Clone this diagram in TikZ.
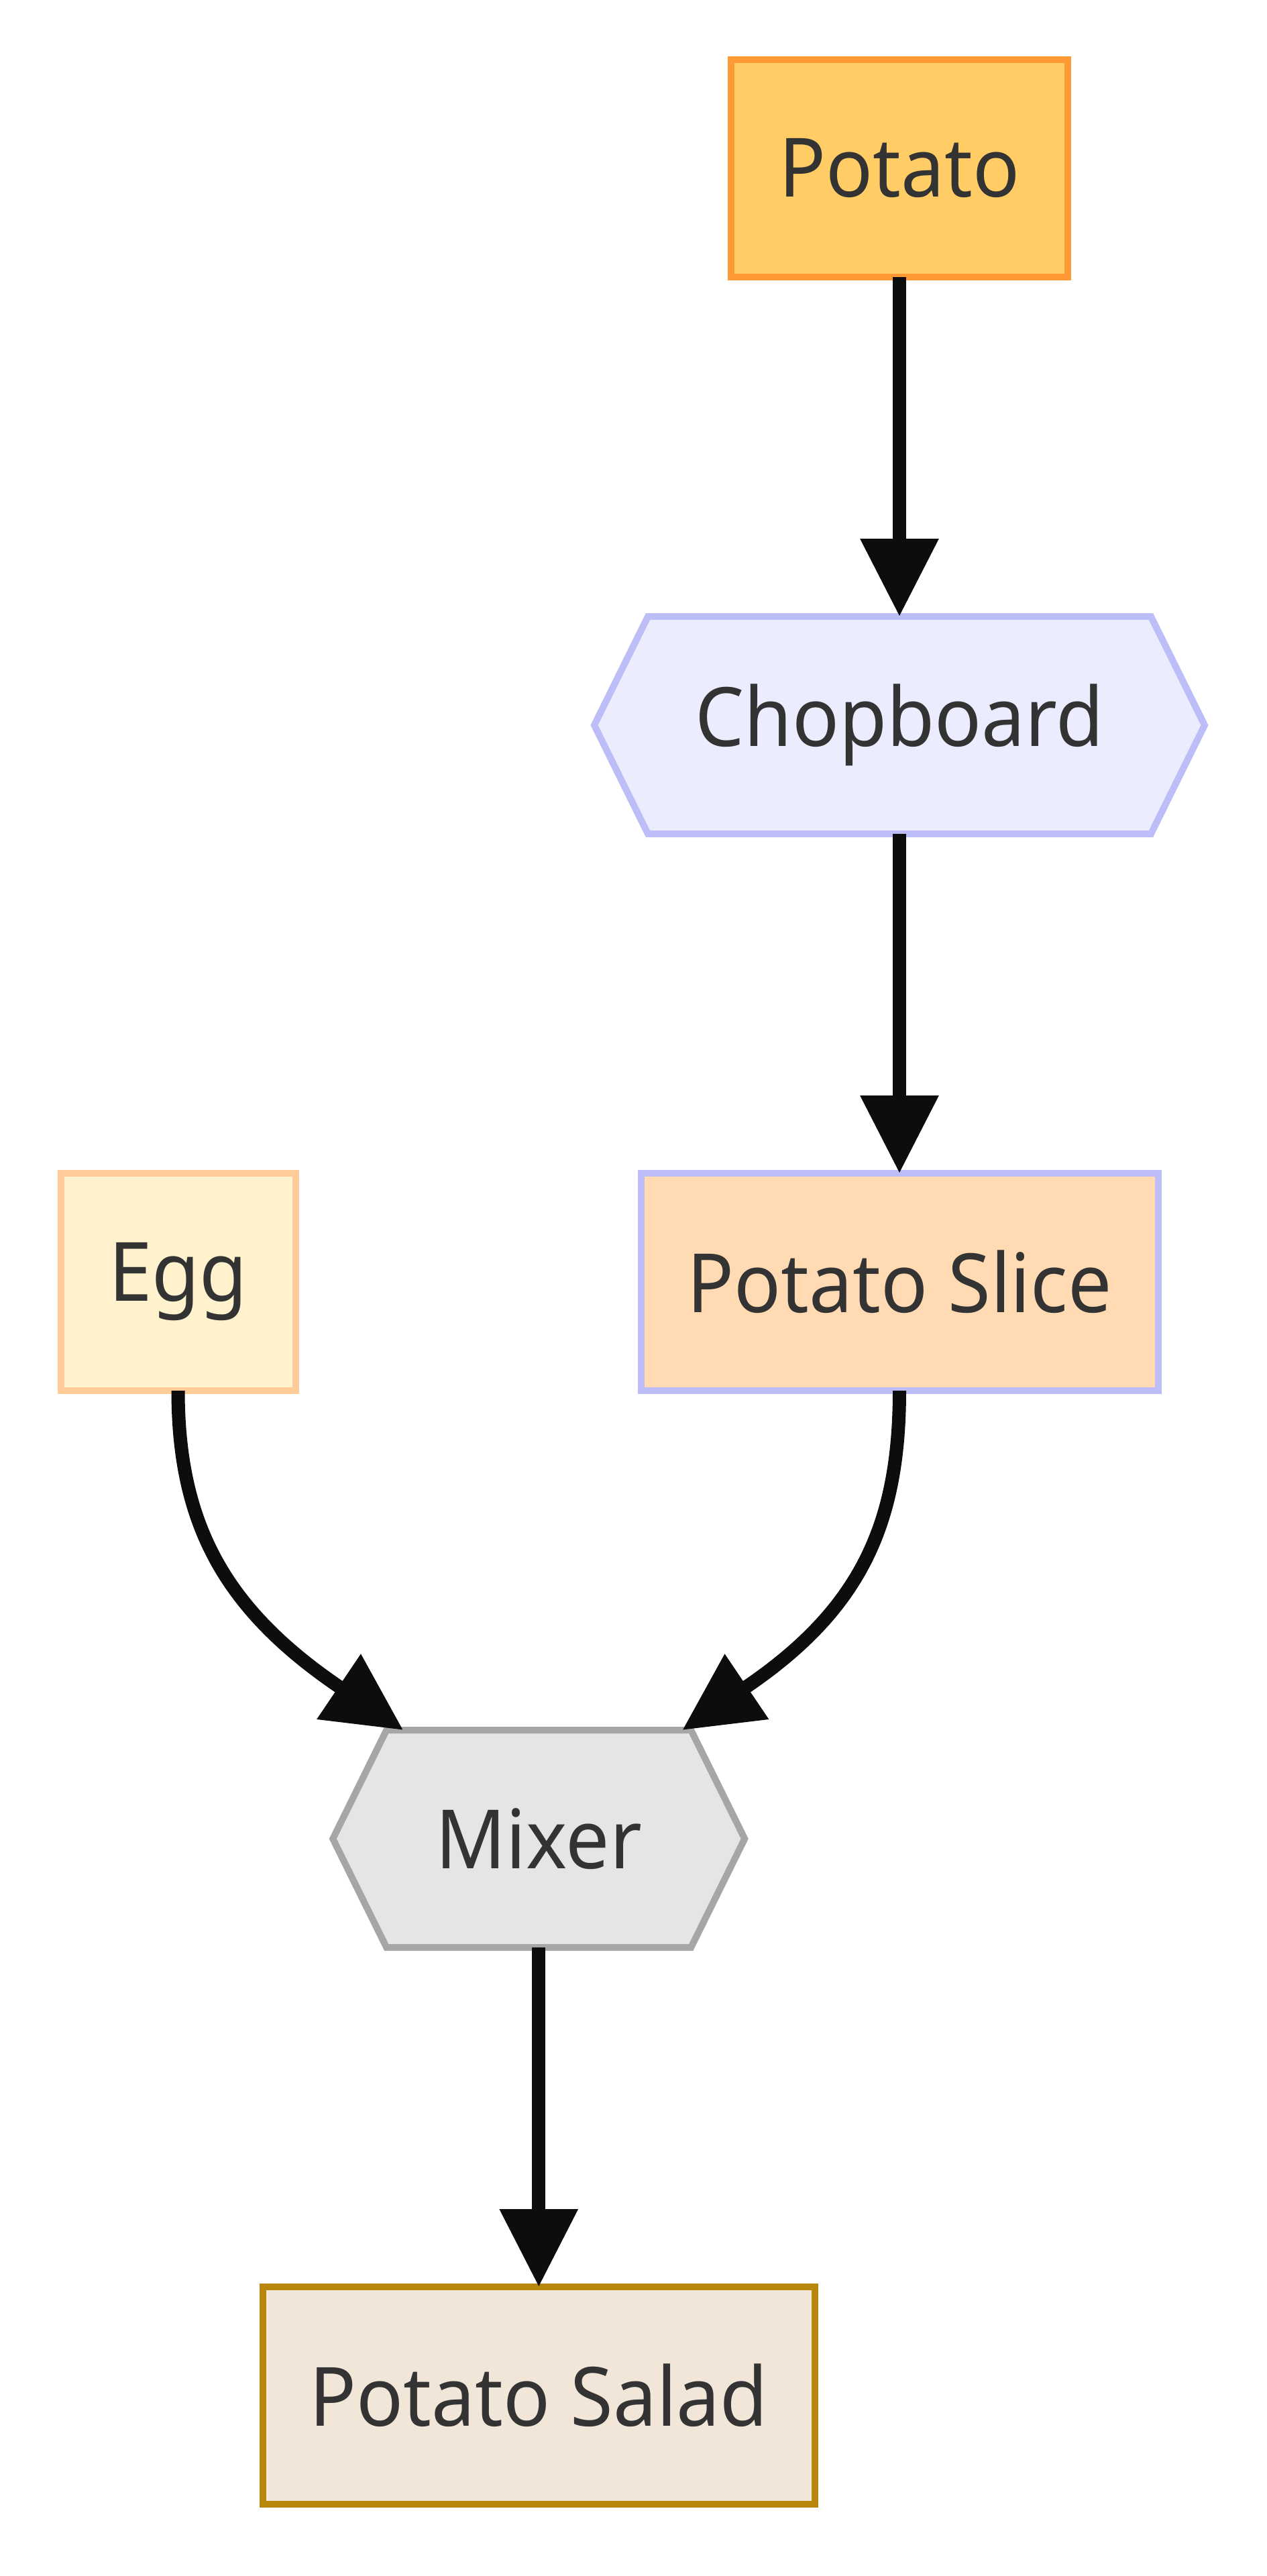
\documentclass[tikz,border=0pt]{standalone}
\usepackage{fontspec}
\setmainfont{Noto Sans}[FakeStretch=0.95]
\usetikzlibrary{positioning, arrows.meta, backgrounds}

\definecolor{potatofill}{HTML}{FFCC66}
\definecolor{potatoline}{HTML}{FF9933}
\definecolor{toolfill}{HTML}{ECECFF}
\definecolor{toolline}{HTML}{BDBDF7}
\definecolor{eggfill}{HTML}{FFF2CC}
\definecolor{eggline}{HTML}{FFCC99}
\definecolor{slicefill}{HTML}{FFDAB3}
\definecolor{mixfill}{HTML}{E5E5E5}
\definecolor{mixline}{HTML}{A6A6A6}
\definecolor{saladfill}{HTML}{F2E6D9}
\definecolor{saladline}{HTML}{B8860B}
\definecolor{textcol}{HTML}{333333}
\definecolor{edgecol}{HTML}{0D0D0D}

% hexagon drawn round a (borderless) node
\newcommand{\hexoutline}[2]{%
  \draw[#2] ([xshift=40pt]#1.north west) -- ([xshift=-40pt]#1.north east) -- (#1.east)
    -- ([xshift=-40pt]#1.south east) -- ([xshift=40pt]#1.south west) -- (#1.west) -- cycle;}

\begin{document}
\begin{tikzpicture}[
        every node/.style={rectangle, minimum height=162pt, outer sep=0pt, text=textcol,
            font=\fontsize{61pt}{73pt}\selectfont, line width=5pt},
        node distance=253pt,
        flow/.style={draw=edgecol, line width=10pt, -{Triangle[length=58pt, width=56pt]}}
    ]
        \useasboundingbox (0,0) rectangle (944.5pt,-1920pt);

        % Ingredientes e ferramentas
        \node (potato) [draw=potatoline, fill=potatofill, minimum width=251pt] at (670.5pt,-125.5pt) {Potato};
        \node (chop) [minimum width=455pt, below=of potato] {Chopboard};
        \node (slice) [draw=toolline, fill=slicefill, minimum width=385.5pt, below=of chop] {Potato Slice};
        \node (egg) [draw=eggline, fill=eggfill, minimum width=175pt, left=257.5pt of slice] {Egg};
        \path (egg.south) -- (slice.south) coordinate[midway] (join);
        \node (mixer) [minimum width=307pt, below=of join] {Mixer};
        \node (salad) [draw=saladline, fill=saladfill, minimum width=411.5pt, below=of mixer] {Potato Salad};

        % Hexagonos
        \begin{scope}[on background layer]
            \hexoutline{chop}{draw=toolline, fill=toolfill, line width=5pt}
            \hexoutline{mixer}{draw=mixline, fill=mixfill, line width=5pt}
        \end{scope}

        % Arestas
        \draw[flow] (potato) -- (chop);
        \draw[flow] (chop) -- (slice);
        \draw[flow] (egg.south) to[out=-90, in=146, out distance=100pt, in distance=160pt] ([xshift=-101pt]mixer.north);
        \draw[flow] (slice.south) to[out=-90, in=34, out distance=100pt, in distance=160pt] ([xshift=107pt]mixer.north);
        \draw[flow] (mixer) -- (salad);
    \end{tikzpicture}
\end{document}
